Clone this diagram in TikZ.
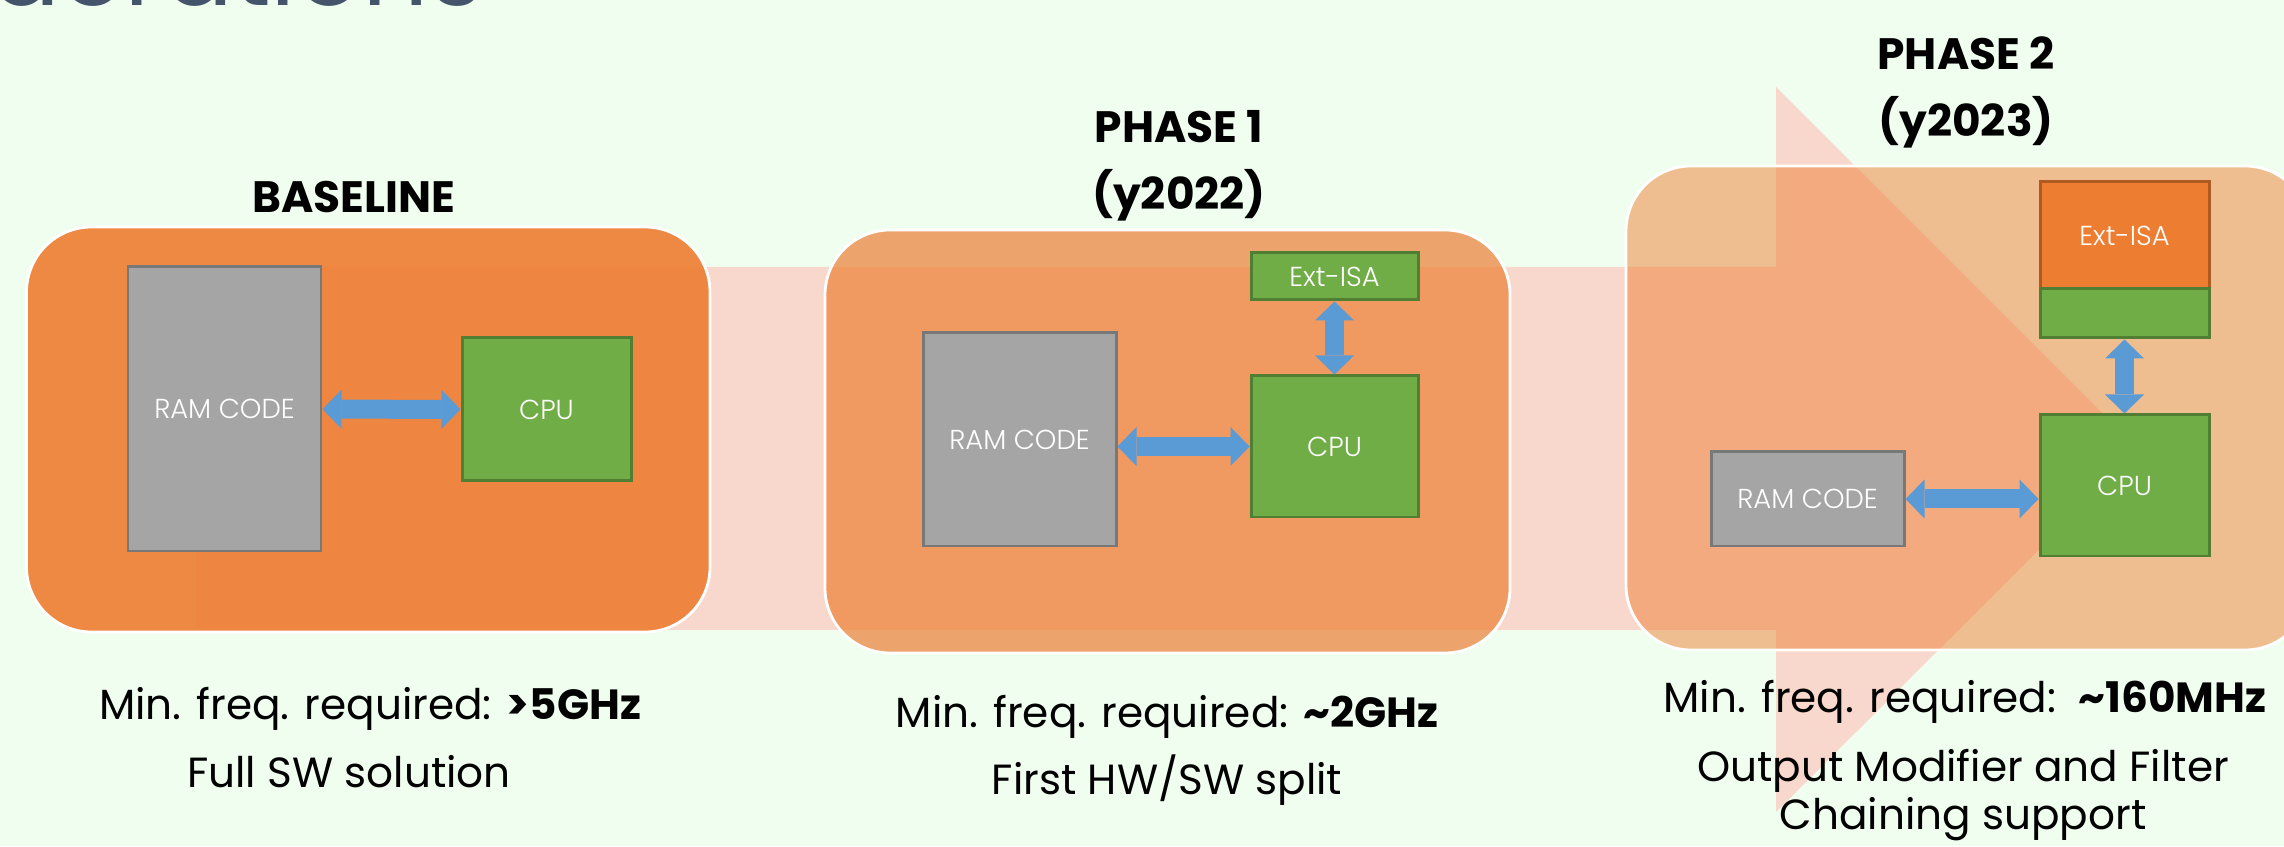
\documentclass[tikz,border=0pt]{standalone}
\usepackage{fontspec}
\setmainfont{Poppins}
\IfFontExistsTF{Poppins Light}{\newfontfamily\thinfont{Poppins Light}}{\newfontfamily\thinfont{Poppins}}
\usetikzlibrary{arrows.meta, calc}

\definecolor{bggreen}{RGB}{240,254,240}
\definecolor{arrowpink}{RGB}{248,216,204}
\definecolor{boxorange}{RGB}{237,125,49}
\definecolor{isaedge}{RGB}{174,90,33}
\definecolor{ramgray}{RGB}{165,165,165}
\definecolor{ramedge}{RGB}{120,120,120}
\definecolor{cpugreen}{RGB}{112,173,71}
\definecolor{cpuedge}{RGB}{80,126,50}
\definecolor{linkblue}{RGB}{91,155,213}
\definecolor{titleslate}{RGB}{68,84,106}

\tikzset{
  block/.style={draw, line width=0.85pt, text=white, inner sep=0pt,
    font=\thinfont\fontsize{7.8}{9}\selectfont},
  ramblock/.style={block, draw=ramedge, fill=ramgray},
  cpublock/.style={block, draw=cpuedge, fill=cpugreen},
  isablock/.style={block, draw=isaedge, fill=boxorange},
  phasebox/.style={draw=white, line width=0.8pt, fill=boxorange, rounded corners=0.65cm},
  link/.style={line width=0.19cm, draw=linkblue,
    {Triangle[width=0.39cm, length=0.19cm, line width=0pt]}-{Triangle[width=0.39cm, length=0.19cm, line width=0pt]}},
  headline/.style={anchor=base, font=\bfseries\fontsize{12.5}{15}\selectfont},
  caption/.style={anchor=base, font=\fontsize{12}{14}\selectfont}
}

\begin{document}
\begin{tikzpicture}
        % Canvas
        \useasboundingbox (0,0) rectangle (22.84,8.46);
        \fill[bggreen] (0,0) rectangle (22.84,8.46);
        \clip (0,0) rectangle (22.84,8.46);

        % Slide title, cut off at the top
        \node[anchor=base east, inner sep=0pt, text=titleslate, font=\fontsize{29.5}{32}\selectfont] (title) at (4.84,8.40) {Considerations};

        % Big arrow behind the phases
        \fill[arrowpink] (1.96,5.79) -- (17.76,5.79) -- (17.76,7.59) -- (21.39,3.96)
            -- (17.76,0.34) -- (17.76,2.16) -- (1.96,2.16) -- cycle;

        % Phase boxes
        \draw[phasebox, fill opacity=0.9] (0.265,2.14) rectangle (7.10,6.19);
        \draw[phasebox, fill opacity=0.69] (8.25,1.93) rectangle (15.10,6.16);
        \draw[phasebox, fill opacity=0.5] (16.26,1.96) rectangle (23.10,6.80);

        % Baseline
        \node[headline] (base head) at (3.54,6.33) {BASELINE};
        \node[ramblock, minimum width=1.93cm, minimum height=2.84cm] (ram0) at (2.245,4.37) {RAM CODE};
        \node[cpublock, minimum width=1.69cm, minimum height=1.43cm] (cpu0) at (5.465,4.365) {CPU};
        \draw[link] (ram0) -- (cpu0);

        % Phase 1
        \node[headline] (p1 head) at (11.79,7.03) {PHASE 1};
        \node[headline] (p1 year) at (11.79,6.36) {(y2022)};
        \node[ramblock, minimum width=1.93cm, minimum height=2.13cm] (ram1) at (10.195,4.065) {RAM CODE};
        \node[cpublock, minimum width=1.67cm, minimum height=1.41cm] (cpu1) at (13.345,3.995) {CPU};
        \node[cpublock, minimum width=1.67cm, minimum height=0.47cm] (isa1) at (13.345,5.695) {Ext-ISA};
        \draw[link] (ram1.east |- cpu1.west) -- (cpu1.west);
        \draw[link] (isa1) -- (cpu1);

        % Phase 2
        \node[headline] (p2 head) at (19.66,7.76) {PHASE 2};
        \node[headline] (p2 year) at (19.66,7.09) {(y2023)};
        \node[ramblock, minimum width=1.93cm, minimum height=0.94cm] (ram2) at (18.075,3.47) {RAM CODE};
        \node[cpublock, minimum width=1.69cm, minimum height=1.41cm] (cpu2) at (21.245,3.605) {CPU};
        \node[isablock, minimum width=1.69cm, minimum height=1.07cm] (isa2) at (21.245,6.105) {Ext-ISA};
        \node[cpublock, minimum width=1.69cm, minimum height=0.49cm] (isa2 base) at (21.245,5.325) {};
        \draw[link] (ram2) -- (cpu2.west |- ram2.east);
        \draw[link] (isa2 base) -- (cpu2);

        % Captions
        \node[caption] (base freq) at (3.70,1.26) {Min. freq. required: \textbf{>5GHz}};
        \node[caption] (base note) at (3.49,0.59) {Full SW solution};
        \node[caption] (p1 freq) at (11.67,1.18) {Min. freq. required: \textbf{\textasciitilde2GHz}};
        \node[caption] (p1 note) at (11.67,0.51) {First HW/SW split};
        \node[caption] (p2 freq) at (19.65,1.33) {Min. freq. required:\ \ \textbf{\textasciitilde160MHz}};
        \node[caption] (p2 note) at (19.63,0.65) {Output Modifier and Filter};
        \node[caption] (p2 more) at (19.63,0.16) {Chaining support};

    \end{tikzpicture}
\end{document}
